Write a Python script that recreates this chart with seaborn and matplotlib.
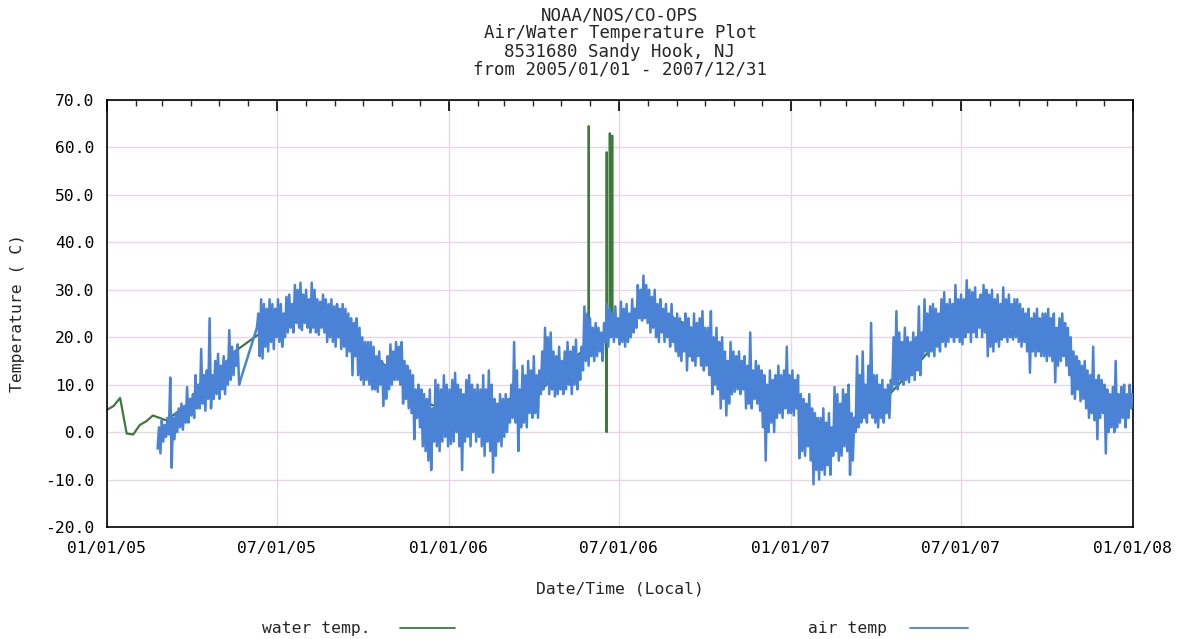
import numpy as np
import pandas as pd
import matplotlib
matplotlib.use("Agg")
import matplotlib.pyplot as plt
import matplotlib.dates as mdates
from matplotlib.ticker import MultipleLocator, FormatStrFormatter
from matplotlib.lines import Line2D
import seaborn as sns

# ---------------- data ----------------
title_lines = ["NOAA/NOS/CO-OPS", "Air/Water Temperature Plot",
               "8531680 Sandy Hook, NJ", "from 2005/01/01 - 2007/12/31"]
series_names = ["water temp.", "air temp"]

# air temperature: low / high readings alternating every 36 hours
air_2005a_start = "2005-02-24"
air_2005a = [-3.5, 1, -4.5, 2.5, -2, 1.5, -1, 3, -0.5, 11.5,
             -7.5, 3, -1.5, 4, 0, 5, 1, 6, 0.5, 5.5,
             2, 9.5, 2, 7, 3.5, 8, 3, 12, 5, 10,
             5, 17.5, 6, 12, 4.5, 13, 7, 24, 5, 12,
             7, 15, 8, 16.5, 7, 14, 9, 16, 8, 15,
             10, 21.5, 11, 18, 12, 17, 14, 18.5, 10, 11]
air_2005b_start = "2005-06-10"
air_2005b = [22, 25, 16, 28, 15.5, 27, 18, 26, 17, 28,
             19, 27, 17.5, 26, 20, 28, 19, 27, 18, 25,
             20, 28.5, 21, 29, 22, 27, 21, 31, 23, 30,
             22, 31.5, 21.5, 29, 23, 30, 22, 28, 21, 31.5,
             22, 30, 21, 28, 20.5, 27.5, 22, 29, 21, 28,
             19, 27, 20, 28, 19, 26.5, 18, 27, 20, 26,
             17.5, 27, 18, 26, 16, 25, 17, 24, 12, 23,
             16, 24, 12, 22, 11, 20, 10, 19, 11, 19,
             10, 19, 9, 18, 9, 16, 8.5, 17, 10, 15,
             5.5, 14, 7, 16, 9, 18.5, 10, 17, 11, 19,
             11, 18, 10, 19, 6, 15, 7, 14, 5, 13,
             4, 12, -1.5, 9, 3, 10, 1, 9, -3, 8,
             -4, 7, -6, 9, -8, 5, -2, 11, -3, 10,
             -4, 9, -2, 12, -1, 10, -3, 9, -2.5, 11,
             -2, 12.5, 0, 10, -3, 9, -8, 8, -2, 11,
             -1, 12, -3, 10, 0, 9, -2, 10, -1, 9]
air_2006_start = "2006-02-05"
air_2006 = [-3, 12, -5, 9, -2, 13, -4, 10, -8.5, 7,
            -5, 6, -2, 8, -3, 7, -1, 8, 0, 7,
            2, 10, 3, 19, 2, 13, -4, 9, 1, 14,
            2, 12, 1, 15, 4, 13, 3, 16, 4, 12,
            3, 13, 8, 17, 9, 22, 10, 20, 8, 21,
            9, 17, 7.5, 16, 8, 18, 9, 15, 8, 17,
            9, 19, 10, 17, 8, 18, 10, 19.5, 9, 16,
            11, 18, 13, 26.5, 15, 25, 14, 24, 16, 22,
            15, 23, 16, 22, 17, 21, 15, 23, 19, 27,
            18, 26, 20, 25, 19, 26.5, 20, 24, 18.5, 27.5,
            19, 26, 18, 27, 19, 25, 20, 28, 21, 26,
            22, 31, 24, 30, 23.5, 33, 24, 31, 23, 30,
            21, 28.5, 22, 30, 20, 27, 19, 28, 21, 26,
            19, 27, 20, 25, 18, 27, 19, 24, 17, 25,
            16, 24, 15, 23, 17, 25, 13, 24, 16, 22,
            15, 25, 14, 23, 16, 24, 14, 25.5, 13, 22,
            14, 22, 12, 25.5, 8, 20, 10, 22, 9, 19,
            5, 20, 7, 17, 3.5, 15, 6, 19, 8, 17,
            8.5, 16, 9, 17, 8, 15, 9, 16, 5, 14,
            6, 21, 5, 13, 7, 15, 6, 14, 4.5, 13,
            1, 12, -6, 10, 0, 13, 2, 11, 0, 12,
            3, 14, 4, 12, 3, 13, 5, 18, 4, 12]
air_2007_start = "2007-01-01"
air_2007 = [4, 13, 3.5, 11, 5, 12, -5.5, 8, -4, 7,
            -5, 6, -3, 8, -6, 5, -11, 4, -8, 3,
            -10, 3, -8, 5, -9, 2, -7, 4, -9, 1,
            -5, 9.5, -4, 8, -6, 6, -5, 9, -3, 8,
            -4, 10, -9, 4, -6, 3, 0, 16, 1, 12,
            2, 17, 3, 10, 2, 14, 4, 23, 3, 12,
            2, 12, 1, 10, 3, 11, 2, 9, 4, 10,
            3, 11, 9, 20, 10, 25.5, 9, 21, 11, 19,
            10, 22, 11, 20, 10.5, 19, 12, 21, 11, 20,
            13, 26.5, 12, 21, 16, 28, 17, 25, 16, 26.5,
            17, 27, 16, 26, 18, 25, 17, 28, 19, 29.5,
            18, 27, 19, 28, 20, 27, 19, 31, 20, 28,
            19, 29, 18.5, 28, 20, 32, 21, 30, 19, 29.5,
            21, 30.5, 20, 28, 22, 29, 20, 31, 21, 30,
            16, 29, 18, 30, 17, 28, 19, 29, 18, 27,
            19.5, 30.5, 20, 28, 19, 29, 20, 27, 19.5, 28,
            20, 28, 19, 27, 18, 26, 19, 25, 17, 26,
            12.5, 24, 17, 25, 16, 26, 17, 24, 16, 25,
            16, 25, 15, 26, 16, 24, 15, 25, 10.5, 22,
            14, 24, 15, 25, 16, 23, 14, 22, 12, 20,
            8, 17, 7, 16, 9, 15, 6.5, 14, 7, 15,
            5, 13, 3, 12, 4, 18, 2.5, 11, -1.5, 12,
            3, 11, 4, 10, -4.5, 9, 0, 8, 1, 9.5,
            0, 15, 1, 8, 2, 9.5, 3, 10, 1, 8,
            3, 10, 5, 8]

# water temperature, weekly readings from 2005-01-01
water_start = "2005-01-01"
water_weekly = [4.7, 5.5, 7.2, -0.3, -0.5, 1.5, 2.3, 3.5, 3.0,
                2.5, 3.5, 4.5, 5.5, 7, 8.5, 10, 11, 12.5,
                14, 16.5, 17.5, 18.5, 19.5, 20.5, 21.5, 22.5,
                23, 23.5, 24, 25, 25.5, 26, 26.5, 26.5, 26,
                25, 24, 23, 21, 18.5, 17, 15.5, 14.5, 13.5,
                12.5, 11, 9.5, 8, 7, 6, 5.5, 5.5, 6,
                6, 6, 5.5, 5, 5, 4, 3.5, 3.5,
                4.5, 5.5, 6, 6.5, 7.5, 8.5, 10, 11.5, 13,
                14, 15, 16.5, 18, 19, 20, 21, 22,
                22.5, 23.5, 24.5, 25, 25.5, 26, 25.5, 25, 24.5,
                23.5, 23, 22, 20.5, 19.5, 18, 16.5, 15.5, 14,
                12.5, 11.5, 11, 10, 9.5, 9, 8, 8, 7.5,
                7.5, 6.5, 5, 3, 1.5, 0.5, 0, 0.5,
                2, 3, 4, 5, 6, 6.5, 7.5, 9, 10.5,
                12, 13.5, 15, 16.5, 18, 19, 20, 21.5, 22,
                22.5, 23.5, 24, 24.5, 25, 25.5, 25, 24,
                23.5, 23, 22, 21, 20, 19.5, 18.5, 17, 15,
                13, 11.5, 10, 8.5, 7, 5.5, 5.5, 6, 6.5]
# sensor spikes in the water record
spike_times = ["2006-05-30 00:00", "2006-05-30 04:00", "2006-05-30 08:00",
               "2006-06-18 00:00", "2006-06-18 04:00", "2006-06-18 08:00", "2006-06-18 12:00",
               "2006-06-21 12:00", "2006-06-21 16:00", "2006-06-21 20:00",
               "2006-06-24 00:00", "2006-06-24 04:00", "2006-06-24 08:00"]
spike_vals = [18, 64.5, 18,
              20, 0, 59, 20,
              21, 63, 21,
              21, 62.5, 21]


def series(start, vals, step="36h"):
    return pd.DataFrame({"time": pd.date_range(start, periods=len(vals), freq=step),
                         "temp": vals})


air = pd.concat([series(air_2005a_start, air_2005a),
                 series(air_2005b_start, air_2005b),
                 series(air_2006_start, air_2006),
                 series(air_2007_start, air_2007)], ignore_index=True)
water = pd.concat([series(water_start, water_weekly, "7D"),
                   pd.DataFrame({"time": pd.to_datetime(spike_times), "temp": spike_vals})],
                  ignore_index=True).sort_values("time", kind="stable").reset_index(drop=True)

# ---------------- style ----------------
sns.set_style("white")
plt.rcParams["font.family"] = ["DejaVu Sans Mono"]
plt.rcParams["axes.unicode_minus"] = False

WATER = "#3f7a3c"
AIR = "#4a82d6"
GRID = "#e6d7e6"
FS = 11.8

W, H = 1189, 639
fig = plt.figure(figsize=(W / 100, H / 100), dpi=100)
ax = fig.add_axes([107 / W, 1 - 527 / H, (1133 - 107) / W, (527 - 100) / H])

sns.lineplot(data=water, x="time", y="temp", ax=ax, color=WATER, lw=1.6,
             estimator=None, sort=False, zorder=2)
sns.lineplot(data=air, x="time", y="temp", ax=ax, color=AIR, lw=1.8,
             estimator=None, zorder=3)

ax.set_xlim(pd.Timestamp("2005-01-01"), pd.Timestamp("2008-01-01"))
ax.set_ylim(-20, 70)
ax.xaxis.set_major_locator(mdates.MonthLocator(bymonth=[1, 7]))
ax.xaxis.set_major_formatter(mdates.DateFormatter("%m/%d/%y"))
ax.xaxis.set_minor_locator(mdates.MonthLocator())
ax.yaxis.set_major_locator(MultipleLocator(10))
ax.yaxis.set_major_formatter(FormatStrFormatter("%.1f"))

ax.tick_params(axis="both", which="major", direction="in", length=8, width=1.2,
               labelsize=FS, colors="black")
ax.tick_params(axis="x", which="major", top=True, pad=10)
ax.tick_params(axis="y", which="major", pad=9)
ax.tick_params(axis="x", which="minor", direction="in", length=4, top=True, width=1)

ax.grid(True, which="major", color=GRID, lw=1)
ax.set_axisbelow(True)
for s in ax.spines.values():
    s.set_color("black")
    s.set_linewidth(1.2)

ax.set_xlabel("Date/Time (Local)", fontsize=FS)
ax.set_ylabel("Temperature ( C)", fontsize=FS)
ax.xaxis.set_label_coords(0.5, -(582 - 527) / 427)
ax.yaxis.set_label_coords(-(107 - 25) / 1026, 0.5)

for i, line in enumerate(title_lines):
    fig.text(620 / W, 1 - (15 + 18.3 * i) / H, line, ha="center", va="center", fontsize=FS + 0.7)

# legend at the bottom
ly = 1 - 628 / H
fig.text(262 / W, ly, series_names[0], ha="left", va="center", fontsize=FS)
fig.add_artist(Line2D([400 / W, 455 / W], [ly, ly], transform=fig.transFigure, color=WATER, lw=1.3))
fig.text(808 / W, ly, series_names[1], ha="left", va="center", fontsize=FS)
fig.add_artist(Line2D([910 / W, 968 / W], [ly, ly], transform=fig.transFigure, color=AIR, lw=1.3))

fig.savefig("out.png", dpi=100)
